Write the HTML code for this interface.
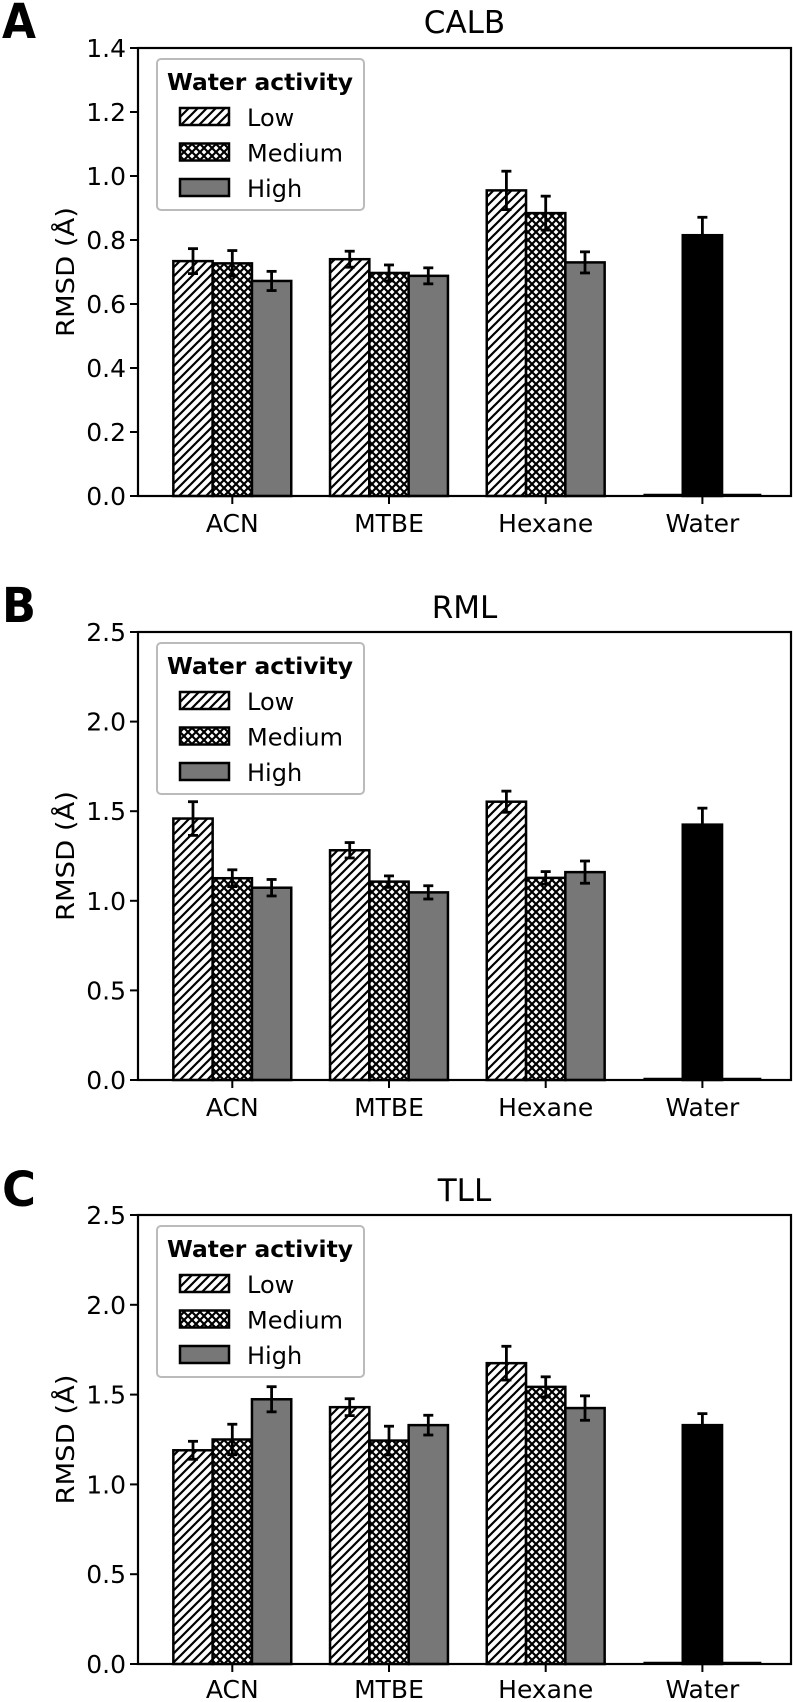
<!DOCTYPE html>
<html><head><meta charset="utf-8">
<style>
html,body{margin:0;padding:0;background:#fff;}
svg{display:block;}
text{font-family:"DejaVu Sans","Liberation Sans",sans-serif;}
</style></head>
<body>
<svg id="fig" width="793" height="1702" viewBox="0 0 793 1702" xmlns="http://www.w3.org/2000/svg">
<defs>
<pattern id="hatchLow" patternUnits="userSpaceOnUse" width="9" height="9">
<rect width="9" height="9" fill="#fff"/>
<path d="M-2,2 L2,-2 M0,9 L9,0 M7,11 L11,7" stroke="#000" stroke-width="2.2"/>
</pattern>
<pattern id="hatchMed" patternUnits="userSpaceOnUse" width="8" height="8">
<rect width="8" height="8" fill="#fff"/>
<path d="M-2,2 L2,-2 M0,8 L8,0 M6,10 L10,6 M-2,6 L2,10 M0,0 L8,8 M6,-2 L10,2" stroke="#000" stroke-width="2.2"/>
</pattern>
</defs>
</svg>
<script>
const categories = ["ACN", "MTBE", "Hexane", "Water"];
const seriesNames = ["Low", "Medium", "High"];

const calbLow = [0.734, 0.740, 0.955, 0];
const calbMed = [0.727, 0.697, 0.884, 0.815];
const calbHigh = [0.672, 0.688, 0.730, 0];
const calbLowErr = [0.039, 0.025, 0.060, 0];
const calbMedErr = [0.040, 0.025, 0.053, 0.056];
const calbHighErr = [0.030, 0.025, 0.033, 0];
const calbTicks = [0.0, 0.2, 0.4, 0.6, 0.8, 1.0, 1.2, 1.4];
const calbTickLabels = ["0.0", "0.2", "0.4", "0.6", "0.8", "1.0", "1.2", "1.4"];

const rmlLow = [1.459, 1.282, 1.553, 0];
const rmlMed = [1.126, 1.107, 1.128, 1.425];
const rmlHigh = [1.073, 1.047, 1.160, 0];
const rmlLowErr = [0.094, 0.043, 0.059, 0];
const rmlMedErr = [0.047, 0.032, 0.035, 0.092];
const rmlHighErr = [0.046, 0.037, 0.062, 0];
const rmlTicks = [0.0, 0.5, 1.0, 1.5, 2.0, 2.5];
const rmlTickLabels = ["0.0", "0.5", "1.0", "1.5", "2.0", "2.5"];

const tllLow = [1.190, 1.430, 1.675, 0];
const tllMed = [1.250, 1.244, 1.543, 1.330];
const tllHigh = [1.474, 1.330, 1.425, 0];
const tllLowErr = [0.050, 0.047, 0.094, 0];
const tllMedErr = [0.085, 0.080, 0.056, 0.064];
const tllHighErr = [0.070, 0.055, 0.068, 0];
const tllTicks = [0.0, 0.5, 1.0, 1.5, 2.0, 2.5];
const tllTickLabels = ["0.0", "0.5", "1.0", "1.5", "2.0", "2.5"];

const NS = "http://www.w3.org/2000/svg";
const svg = document.getElementById("fig");
function mk(tag, attrs, parent) {
  const e = document.createElementNS(NS, tag);
  for (const k in attrs) e.setAttribute(k, attrs[k]);
  (parent || svg).appendChild(e);
  return e;
}
const fills = ["url(#hatchLow)", "url(#hatchMed)", "#777777"];
const AX_L = 138, AX_R = 791, X0 = 232.3, XSTEP = 156.7, BW = 39.3;
function xCenter(i) { return X0 + XSTEP * i; }

function panel(key, letter, title, top, bottom, ymax, ticks, tickLabels, vals, errs, letterBase, titleY, labelY) {
  const g = mk("g", {});
  
  
  const yScale = v => bottom - (v / ymax) * (bottom - top);

  const lt = mk("text", {x: 2, y: letterBase, "font-size": 48, "font-weight": "bold", "font-family": "Liberation Sans, sans-serif", textLength: 34, lengthAdjust: "spacingAndGlyphs"}, g);
  lt.textContent = letter;
  
  

  const tt = mk("text", {x: (AX_L + AX_R) / 2, y: titleY + 11, "font-size": 31, "text-anchor": "middle"}, g);
  tt.textContent = title;
  
  

  ticks.forEach((t, i) => {
    const y = yScale(t);
    const tl = mk("line", {x1: AX_L - 8, x2: AX_L, y1: y, y2: y, stroke: "#000", "stroke-width": 2}, g);
    
    
    const lb = mk("text", {x: AX_L - 12, y: y + 9, "font-size": 25, "text-anchor": "end"}, g);
    lb.textContent = tickLabels[i];
    
    
  });
  const cy = (top + bottom) / 2;
  const yl = mk("text", {x: 0, y: 0, "font-size": 25, "text-anchor": "middle", textLength: 130, lengthAdjust: "spacingAndGlyphs", transform: `translate(74,${cy}) rotate(-90)`}, g);
  yl.textContent = "RMSD (Å)";
  
  

  categories.forEach((c, i) => {
    const x = xCenter(i);
    const tl = mk("line", {x1: x, x2: x, y1: bottom, y2: bottom + 8, stroke: "#000", "stroke-width": 2}, g);
    
    
    const lb = mk("text", {x: x, y: labelY + 9, "font-size": 25, "text-anchor": "middle"}, g);
    lb.textContent = c;
    
    
  });

  vals.forEach((arr, s) => {
    arr.forEach((v, i) => {
      const cx = xCenter(i) + (s - 1) * BW;
      const isWater = categories[i] === "Water";
      const fill = isWater ? "#000" : fills[s];
      const y = yScale(v);
      const h = bottom - y;
      if (h > 0.5) {
        const r = mk("rect", {x: cx - BW / 2, y: y, width: BW, height: h, fill: fill, stroke: "#000", "stroke-width": 2.5}, g);
        
        
      } else {
        const r = mk("line", {x1: cx - BW / 2, x2: cx + BW / 2, y1: y - 1, y2: y - 1, stroke: "#000", "stroke-width": 2.5}, g);
        
        
      }
      const e = errs[s][i];
      if (e > 0) {
        const eg = mk("g", {stroke: "#000", "stroke-width": 2.8}, g);
        
        
        mk("line", {x1: cx, x2: cx, y1: yScale(v - e), y2: yScale(v + e)}, eg);
        mk("line", {x1: cx - 5, x2: cx + 5, y1: yScale(v - e), y2: yScale(v - e)}, eg);
        mk("line", {x1: cx - 5, x2: cx + 5, y1: yScale(v + e), y2: yScale(v + e)}, eg);
      }
    });
  });

  const fr = mk("rect", {x: AX_L, y: top, width: AX_R - AX_L, height: bottom - top, fill: "none", stroke: "#000", "stroke-width": 2.2}, g);
  
  

  const lg = mk("g", {}, g);
  
  
  const lt0 = top + 11;
  mk("rect", {x: 157, y: lt0, width: 207, height: 151, rx: 4, fill: "#fff", stroke: "#bbb", "stroke-width": 2}, lg);
  const lh = mk("text", {x: 167, y: lt0 + 31, "font-size": 23, "font-weight": "bold", textLength: 186, lengthAdjust: "spacingAndGlyphs"}, lg);
  lh.textContent = "Water activity";
  
  
  seriesNames.forEach((n, s) => {
    const ey = lt0 + 58 + s * 35.5;
    const eg = mk("g", {}, lg);
    
    
    mk("rect", {x: 180, y: ey - 9, width: 49, height: 17, fill: fills[s], stroke: "#000", "stroke-width": 2.5}, eg);
    const et = mk("text", {x: 247, y: ey + 9, "font-size": 24}, eg);
    et.textContent = n;
  });
}

panel("calb", "A", "CALB", 48, 496, 1.4, calbTicks, calbTickLabels,
  [calbLow, calbMed, calbHigh], [calbLowErr, calbMedErr, calbHighErr], 38, 22, 523);
panel("rml", "B", "RML", 632, 1080, 2.5, rmlTicks, rmlTickLabels,
  [rmlLow, rmlMed, rmlHigh], [rmlLowErr, rmlMedErr, rmlHighErr], 622, 607, 1107);
panel("tll", "C", "TLL", 1215, 1664, 2.5, tllTicks, tllTickLabels,
  [tllLow, tllMed, tllHigh], [tllLowErr, tllMedErr, tllHighErr], 1206, 1190, 1689);
</script>
</body></html>
